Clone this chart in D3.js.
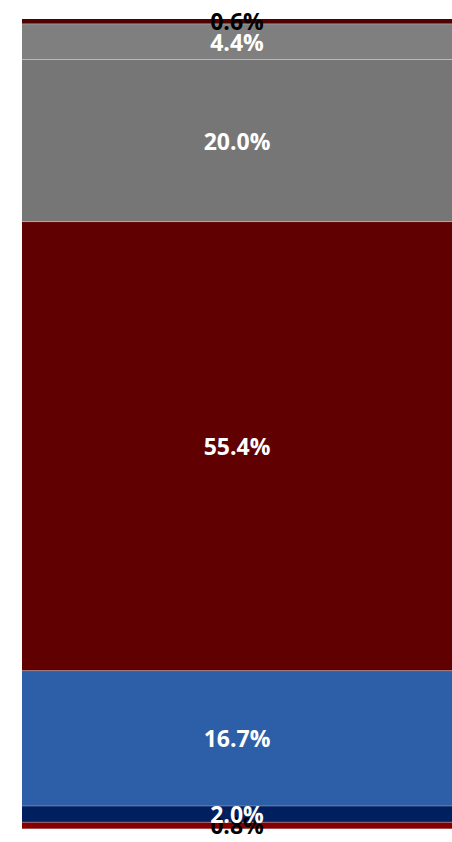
<!DOCTYPE html>
<html>
<head>
<meta charset="utf-8">
<script src="https://cdn.jsdelivr.net/npm/d3@7"></script>
<style>
  html, body { margin: 0; padding: 0; background: #ffffff; overflow: hidden; }
  svg { display: block; }
</style>
</head>
<body>
<svg id="chart" width="452" height="842"></svg>
<script>
// Segments of the single stacked column, listed bottom to top
const categories = ["A", "B", "C", "D", "E", "F", "G"];
const values = [0.8, 2.0, 16.7, 55.4, 20.0, 4.4, 0.6];
const labels = ["0.8%", "2.0%", "16.7%", "55.4%", "20.0%", "4.4%", "0.6%"];
const colors = ["#840000", "#001f5f", "#2d5ea8", "#600000", "#767676", "#7f7f7f", "#500000"];
const labelColors = ["#000000", "#ffffff", "#ffffff", "#ffffff", "#ffffff", "#ffffff", "#000000"];

const svg = d3.select("#chart");
const W = 452, H = 842;
const margin = { top: 19, right: 0, bottom: 13.3, left: 22 };

// Build cumulative stack
let acc = 0;
const stacked = values.map((v, i) => {
  const d = { key: categories[i], value: v, y0: acc, y1: acc + v, label: labels[i], color: colors[i], tc: labelColors[i] };
  acc += v;
  return d;
});

const y = d3.scaleLinear()
  .domain([0, acc])
  .range([H - margin.bottom, margin.top]);

const x = d3.scaleBand()
  .domain(["total"])
  .range([margin.left, W - margin.right])
  .padding(0);

const g = svg.append("g");

g.selectAll("rect.seg")
  .data(stacked)
  .join("rect")
  .attr("class", "seg")
  .attr("x", x("total"))
  .attr("width", x.bandwidth())
  .attr("y", d => y(d.y1))
  .attr("height", d => y(d.y0) - y(d.y1))
  .attr("fill", d => d.color);

// Faint separators between neighbouring segments
g.selectAll("line.sep")
  .data(stacked.slice(0, -1))
  .join("line")
  .attr("class", "sep")
  .attr("x1", x("total"))
  .attr("x2", x("total") + x.bandwidth())
  .attr("y1", d => y(d.y1))
  .attr("y2", d => y(d.y1))
  .attr("stroke", "#ffffff")
  .attr("stroke-opacity", 0.3)
  .attr("stroke-width", 1);

// Value labels, centred in each segment
g.selectAll("text.lbl")
  .data(stacked)
  .join("text")
  .attr("class", "lbl")
  .attr("x", x("total") + x.bandwidth() / 2)
  .attr("y", d => (y(d.y0) + y(d.y1)) / 2 + 9)
  .attr("text-anchor", "middle")
  .attr("font-family", "'Open Sans', 'Noto Sans', sans-serif")
  .attr("font-weight", 700)
  .attr("font-size", 23)
  .attr("fill", d => d.tc)
  .text(d => d.label);
</script>
</body>
</html>
